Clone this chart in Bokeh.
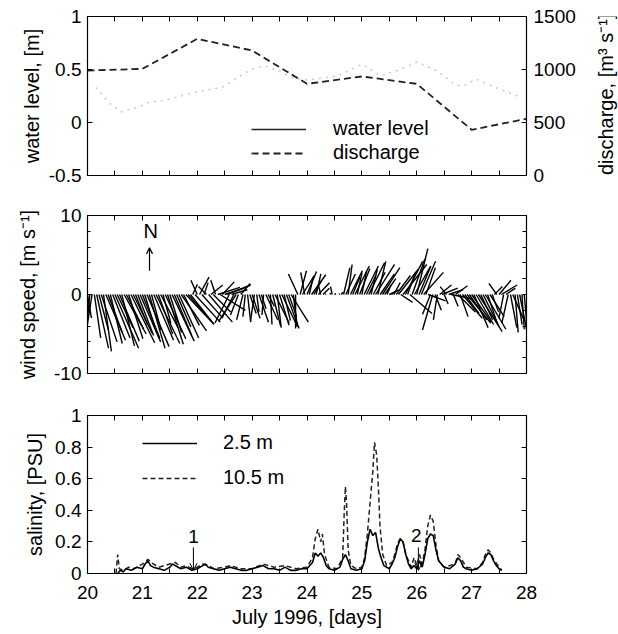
import numpy as np
from bokeh.plotting import figure
from bokeh.layouts import column, row
from bokeh.models import (LinearAxis, Range1d, FixedTicker, Legend, LegendItem,
                          Arrow, OpenHead, Label)
from bokeh.embed import file_html
from bokeh.resources import INLINE

FONT = "Liberation Sans"
TICK_FS = "19px"
TITLE_FS = "20px"

# ---------------- data ----------------
day_ticks = [20, 21, 22, 23, 24, 25, 26, 27, 28]
half_days = [20.5, 21.5, 22.5, 23.5, 24.5, 25.5, 26.5, 27.5]

# panel 1: water level [m] and discharge [m3 s-1]
discharge_days = [20, 21, 22, 23, 24, 25, 26, 27, 28]
discharge = [990, 1006, 1289, 1179, 865, 934, 865, 431, 535]
wl_days = [20.15, 20.40, 20.60, 20.93, 21.11, 21.40, 21.63, 21.93, 22.20, 22.45,
           22.66, 22.85, 23.06, 23.25, 23.47, 23.75, 24.01, 24.30, 24.56, 24.80,
           25.00, 25.35, 25.70, 26.00, 26.36, 26.72, 26.87, 27.08, 27.44, 27.88]
water_level = [0.33, 0.18, 0.10, 0.145, 0.19, 0.21, 0.24, 0.28, 0.31, 0.33,
               0.40, 0.46, 0.52, 0.53, 0.49, 0.42, 0.40, 0.42, 0.44, 0.50,
               0.55, 0.44, 0.50, 0.57, 0.49, 0.35, 0.35, 0.41, 0.33, 0.24]

# panel 2: hourly wind components [m s-1] (east u, north v), day 20 .. day 27
wind_u = [0.5, -0.6, -1.4, 0.8, 1.5, 1.2, 2.0, 1.0, 2.5, 1.8, 1.5, 2.2,
          3.0, 2.0, 2.5, 1.6, 2.8, 2.2, 1.8, 3.0, 2.4, 1.5, 2.0, 2.6,
          2.2, 1.5, 2.8, 2.0, 1.2, 2.5, 3.0, 1.8, 2.2, 1.0, 2.6, 2.0,
          1.5, 2.8, 2.2, 1.8, 2.5, 3.2, 2.0, 3.5, 2.8, 3.0, 0.6, 3.2,
          -0.8, 1.2, 2.5, 0.5, -1.0, 3.0, 1.5, 2.2, -0.6, 2.8, 3.2, 1.5,
          2.5, 3.0, -1.8, 2.0, -1.5, -2.2, -1.0, 1.2, -0.8, -0.3, 0.4, 0.8,
          1.0, -0.5, 0.3, 1.2, 0.6, -0.2, 1.5, 0.8, 0.2, 1.0, 1.8, 0.5,
          1.2, 2.0, 0.8, 1.6, 1.0, 2.2, 0.5, 0.0, -1.2, 0.8, 1.5, -0.5,
          1.2, 0.5, 1.8, 1.0, 0.6, 1.4, -0.3, 0.8, 0.1, 0.0, 0.1, -0.2,
          0.2, 0.0, 0.1, 0.2, 0.8, 1.2, 0.5, 1.5, 0.9, 1.8, 0.6, 1.3,
          0.6, 1.8, 1.2, 2.0, 0.8, 1.5, 2.4, 1.0, 1.8, 2.2, 1.4, 0.5,
          1.2, 0.4, 0.8, 1.8, 2.5, 1.5, 3.0, 2.2, 1.0, 2.8, 1.6, 2.0,
          1.4, 1.5, 1.8, 2.5, 1.2, 2.2, -1.0, -1.3, 0.8, -0.5, 1.5, 2.0,
          0.5, -0.8, 1.8, 2.5, 0.6, 1.5, 2.2, 1.0, 2.5, 1.8, 3.0, 2.2,
          2.5, 1.8, 2.2, 3.0, 1.5, 2.0, 2.6, 1.2, 1.8, 0.8, 1.0, -1.0,
          1.5, 2.0, -0.6, 1.2, -0.8, 0.8, 1.5, 0.4, 0.6, 1.0, 0.3, 0.5]
wind_v = [-3.0, -6.5, -8.9, -5.5, -6.8, -4.5, -6.0, -7.2, -5.8, -4.8, -6.2, -5.5,
          -6.8, -4.2, -5.9, -6.5, -5.0, -4.4, -5.6, -6.1, -4.9, -3.8, -5.2, -6.0,
          -5.5, -4.8, -6.6, -6.8, -4.5, -5.8, -6.2, -5.0, -4.2, -3.6, -5.6, -6.3,
          -4.8, -5.9, -5.2, -4.1, -5.5, -4.6, -3.9, -3.7, -3.2, -3.8, 1.3, -3.5,
          1.8, 2.2, -2.8, 1.5, 1.0, -3.5, 1.2, -2.2, 1.8, 0.9, -2.0, 1.6,
          0.8, 1.2, -3.6, 0.6, -3.0, -3.4, -2.6, 1.4, -3.2, -2.8, -3.5, -2.4,
          -3.0, -3.4, -2.2, -3.5, -1.8, -2.6, -3.2, -1.5, -3.8, -4.0, -3.6, -4.2,
          -3.9, -4.1, -3.3, -4.3, -2.8, -3.5, -4.0, -4.3, 2.6, 3.0, 2.4, 2.8,
          2.9, 2.2, 2.5, 1.8, 2.6, 1.5, 1.2, 0.8, 0.1, 0.0, 0.2, 1.0,
          0.1, 0.0, 0.1, 0.3, 3.4, 2.6, 3.8, 3.0, 2.2, 3.6, 2.8, 3.3,
          3.0, 3.6, 2.4, 4.0, 3.2, 2.8, 3.8, 4.2, 2.6, 3.4, 2.0, 1.2,
          0.6, 0.3, 1.5, 2.4, 3.2, -1.0, 3.8, 4.2, 2.8, -2.4, 4.5, 3.5,
          5.8, 3.6, 4.2, 2.8, 3.4, -0.8, -2.5, -4.5, -2.0, -3.2, 1.2, 0.8,
          -1.2, 1.0, 0.6, -0.5, -1.5, 1.1, -2.2, -2.8, -3.0, -2.4, -3.6, -3.2,
          -3.5, -4.2, -3.8, -4.7, -3.2, -4.0, -4.4, -3.6, -2.8, -2.2, 1.0, 1.4,
          1.8, 1.2, -3.0, 0.8, -3.6, -4.2, -3.4, -4.8, -3.8, -5.0, -4.4, -5.6]
wind_t = 20 + np.arange(len(wind_u)) / 24.0

# panel 3: salinity [PSU]
s25_t = [20.55, 20.6, 20.65, 20.7, 20.8, 20.9, 21.0, 21.05, 21.1, 21.15, 21.2, 21.3,
         21.4, 21.5, 21.55, 21.6, 21.7, 21.8, 21.9, 22.0, 22.1, 22.15, 22.2, 22.3,
         22.4, 22.5, 22.6, 22.7, 22.8, 22.9, 23.0, 23.1, 23.2, 23.3, 23.4, 23.5,
         23.6, 23.7, 23.8, 23.9, 24.0, 24.1, 24.15, 24.2, 24.25, 24.3, 24.35, 24.4,
         24.5, 24.6, 24.65, 24.7, 24.75, 24.8, 24.9, 25.0, 25.05, 25.1, 25.15, 25.2,
         25.25, 25.3, 25.35, 25.4, 25.5, 25.55, 25.6, 25.65, 25.7, 25.75, 25.8, 25.85,
         25.9, 25.95, 26.0, 26.05, 26.1, 26.15, 26.2, 26.25, 26.3, 26.35, 26.4, 26.5,
         26.6, 26.7, 26.75, 26.8, 26.85, 26.9, 27.0, 27.1, 27.2, 27.25, 27.3, 27.35,
         27.4, 27.45, 27.5, 27.55]
s25 = [0.0, 0.02, 0.01, 0.03, 0.02, 0.04, 0.03, 0.06, 0.08, 0.05, 0.04, 0.03,
       0.02, 0.04, 0.06, 0.05, 0.03, 0.04, 0.02, 0.03, 0.05, 0.06, 0.04, 0.03,
       0.02, 0.03, 0.04, 0.03, 0.02, 0.02, 0.03, 0.04, 0.05, 0.03, 0.03, 0.02,
       0.04, 0.02, 0.02, 0.03, 0.03, 0.07, 0.13, 0.11, 0.13, 0.10, 0.05, 0.03,
       0.02, 0.04, 0.09, 0.12, 0.08, 0.03, 0.02, 0.03, 0.08, 0.20, 0.28, 0.24,
       0.26, 0.16, 0.10, 0.05, 0.03, 0.06, 0.10, 0.17, 0.22, 0.20, 0.12, 0.06,
       0.03, 0.05, 0.03, 0.08, 0.04, 0.12, 0.22, 0.25, 0.24, 0.15, 0.08, 0.04,
       0.03, 0.06, 0.10, 0.08, 0.04, 0.03, 0.02, 0.03, 0.06, 0.10, 0.13, 0.12,
       0.08, 0.05, 0.03, 0.02]
s105_t = [20.52, 20.55, 20.58, 20.65, 20.75, 20.85, 20.95, 21.05, 21.1, 21.2, 21.3, 21.4,
          21.5, 21.6, 21.7, 21.8, 21.9, 22.0, 22.1, 22.2, 22.3, 22.5, 22.6, 22.8,
          23.0, 23.2, 23.4, 23.6, 23.8, 24.0, 24.1, 24.15, 24.2, 24.25, 24.28, 24.32,
          24.4, 24.55, 24.65, 24.68, 24.7, 24.72, 24.75, 24.8, 24.9, 25.0, 25.05, 25.1,
          25.15, 25.2, 25.23, 25.27, 25.3, 25.33, 25.38, 25.45, 25.55, 25.6, 25.65, 25.7,
          25.75, 25.8, 25.9, 25.95, 26.0, 26.05, 26.1, 26.15, 26.2, 26.25, 26.3, 26.35,
          26.4, 26.5, 26.7, 26.75, 26.8, 26.9, 27.1, 27.2, 27.25, 27.3, 27.35, 27.4,
          27.5, 27.55]
s105 = [0.0, 0.12, 0.03, 0.02, 0.04, 0.03, 0.05, 0.07, 0.09, 0.06, 0.04, 0.05,
        0.06, 0.07, 0.04, 0.05, 0.03, 0.04, 0.06, 0.05, 0.03, 0.04, 0.05, 0.03,
        0.03, 0.06, 0.04, 0.05, 0.03, 0.04, 0.10, 0.22, 0.28, 0.20, 0.25, 0.12,
        0.04, 0.03, 0.10, 0.40, 0.55, 0.45, 0.15, 0.05, 0.03, 0.04, 0.10, 0.25,
        0.45, 0.65, 0.83, 0.75, 0.55, 0.30, 0.12, 0.05, 0.07, 0.12, 0.19, 0.22,
        0.20, 0.12, 0.04, 0.10, 0.05, 0.12, 0.06, 0.15, 0.30, 0.37, 0.33, 0.18,
        0.08, 0.04, 0.06, 0.12, 0.10, 0.04, 0.03, 0.07, 0.12, 0.15, 0.13, 0.09,
        0.04, 0.02]

# ---------------- helpers ----------------
x_range = Range1d(20, 28)
FRAME_W = 439
LEFT = 87
RIGHT = 92


def new_fig(top, fh, bottom, y_range, right=RIGHT):
    p = figure(frame_width=FRAME_W, frame_height=fh, min_border_left=LEFT,
               min_border_right=right, min_border_top=top, min_border_bottom=bottom,
               x_range=x_range, y_range=y_range, output_backend="svg",
               toolbar_location=None, x_axis_type=None, y_axis_type=None)
    p.outline_line_color = "black"
    p.outline_line_width = 1.2
    p.background_fill_color = "white"
    p.border_fill_color = "white"
    return p


def style(ax, standoff=6, tick=5, minor=3):
    ax.major_tick_in = tick
    ax.major_tick_out = 0
    ax.minor_tick_in = minor
    ax.minor_tick_out = 0
    ax.axis_line_color = None
    ax.major_tick_line_color = "black"
    ax.minor_tick_line_color = "black"
    ax.major_label_text_font = FONT
    ax.major_label_text_font_size = TICK_FS
    ax.major_label_text_color = "black"
    ax.major_label_standoff = standoff
    ax.axis_label_text_font = FONT
    ax.axis_label_text_font_size = TITLE_FS
    ax.axis_label_text_font_style = "normal"
    ax.axis_label_text_color = "black"


def tick_only_axis(p, side, ticks, y_range_name=None):
    # an axis with tick marks only (all ticks given as minor ticks -> no labels)
    kw = {} if y_range_name is None else {"y_range_name": y_range_name}
    ax = LinearAxis(ticker=FixedTicker(ticks=[], minor_ticks=ticks), **kw)
    style(ax, 0, 5, 5)
    p.add_layout(ax, side)
    return ax


all_day_ticks = sorted(day_ticks + half_days)

# ---------------- panel 1 ----------------
TITLE_W = 26
wl_range = Range1d(-0.5, 1)
p1 = new_fig(16, 159, 20, wl_range, right=RIGHT - TITLE_W)
p1.extra_y_ranges = {"dis": Range1d(0, 1500), "off": Range1d(10, 11)}
tick_only_axis(p1, "below", all_day_ticks)
tick_only_axis(p1, "above", all_day_ticks)
l1 = LinearAxis(ticker=FixedTicker(ticks=[-0.5, 0, 0.5, 1]), axis_label="water level, [m]")
style(l1)
l1.major_label_overrides = {-0.5: "-0.5", 0: "0", 0.5: "0.5", 1: "1"}
l1.axis_label_standoff = 3
p1.add_layout(l1, "left")
r1 = LinearAxis(y_range_name="dis", ticker=FixedTicker(ticks=[0, 500, 1000, 1500]))
style(r1, 7)
r1.major_label_overrides = {0: "0", 500: "500", 1000: "1000", 1500: "1500"}
p1.add_layout(r1, "right")

p1.line(wl_days, water_level, line_color="#cccccc", line_width=1.6, line_dash="2 5")
r_dis = p1.line(discharge_days, discharge, y_range_name="dis", line_color="#222222",
                line_width=1.8, line_dash="7 4")
# same water-level data drawn solid on an off-screen range: used only as legend sample
r_wl_leg = p1.line(wl_days, water_level, y_range_name="off", line_color="#222222",
                   line_width=1.6)
lg1 = Legend(items=[LegendItem(label="water level", renderers=[r_wl_leg]),
                    LegendItem(label="discharge", renderers=[r_dis])],
             location=(164, 11), padding=0, margin=0, border_line_color=None,
             background_fill_alpha=0, glyph_width=55, glyph_height=20, label_height=20,
             spacing=1, label_standoff=27, label_text_font=FONT,
             label_text_font_size=TITLE_FS, label_text_color="black")
p1.add_layout(lg1)

# narrow strip carrying the right-hand axis title (reads bottom to top)
pt = figure(width=TITLE_W, height=195, x_range=Range1d(0, 1), y_range=Range1d(0, 195),
            min_border=0, output_backend="svg", toolbar_location=None,
            x_axis_type=None, y_axis_type=None)
pt.outline_line_color = None
pt.background_fill_color = "white"
pt.border_fill_color = "white"
pt.add_layout(Label(x=0.5, y=20 + 159 / 2, text="discharge, [m³ s⁻¹]", angle=np.pi / 2,
                    text_font=FONT, text_font_size=TITLE_FS, text_align="center",
                    text_baseline="middle", text_color="black"))

# ---------------- panel 2 ----------------
p2 = new_fig(20, 158, 21, Range1d(-10, 10))
tick_only_axis(p2, "below", all_day_ticks)
tick_only_axis(p2, "above", all_day_ticks)
wtk = [-10, 0, 10]
wmin = [-8, -6, -4, -2, 2, 4, 6, 8]
l2 = LinearAxis(ticker=FixedTicker(ticks=wtk, minor_ticks=wmin), axis_label="wind speed, [m s⁻¹]")
style(l2)
l2.major_label_overrides = {-10: "-10", 0: "0", 10: "10"}
l2.axis_label_standoff = 12
p2.add_layout(l2, "left")
r2 = tick_only_axis(p2, "right", sorted(wtk + wmin))
r2.minor_tick_in = 4

k = 0.144  # days per m/s so that sticks keep their true direction
wind_x1 = wind_t + np.array(wind_u) * k
p2.segment(x0=wind_t, y0=np.zeros(len(wind_t)), x1=wind_x1, y1=wind_v,
           line_color="black", line_width=1.4)
p2.add_layout(Label(x=21.15, y=8.1, text="N", text_font=FONT, text_font_size=TITLE_FS,
                    text_align="center", text_baseline="middle", text_color="black"))
p2.add_layout(Arrow(x_start=21.13, y_start=3.0, x_end=21.13, y_end=5.9, line_width=1.2,
                    end=OpenHead(size=6, line_width=1.2)))

# ---------------- panel 3 ----------------
p3 = new_fig(21, 158, 61, Range1d(0, 1))
bx = LinearAxis(ticker=FixedTicker(ticks=day_ticks, minor_ticks=half_days),
                axis_label="July 1996, [days]")
style(bx, 12, 5, 5)
bx.major_label_overrides = {d: str(d) for d in day_ticks}
bx.axis_label_standoff = 4
p3.add_layout(bx, "below")
tick_only_axis(p3, "above", all_day_ticks)
stk = [0, 0.2, 0.4, 0.6, 0.8, 1]
l3 = LinearAxis(ticker=FixedTicker(ticks=stk), axis_label="salinity, [PSU]")
style(l3)
l3.major_label_overrides = {0: "0", 0.2: "0.2", 0.4: "0.4", 0.6: "0.6", 0.8: "0.8", 1: "1"}
l3.axis_label_standoff = 6
p3.add_layout(l3, "left")
tick_only_axis(p3, "right", stk)

r_s105 = p3.line(s105_t, s105, line_color="#222222", line_width=1.5, line_dash="5 3")
r_s25 = p3.line(s25_t, s25, line_color="black", line_width=1.6)
lg3 = Legend(items=[LegendItem(label="2.5 m", renderers=[r_s25]),
                    LegendItem(label="10.5 m", renderers=[r_s105])],
             location=(55, 84), padding=0, margin=0, border_line_color=None,
             background_fill_alpha=0, glyph_width=55, glyph_height=20, label_height=20,
             spacing=12, label_standoff=26, label_text_font=FONT,
             label_text_font_size=TITLE_FS, label_text_color="black")
p3.add_layout(lg3)

p3.add_layout(Label(x=21.93, y=0.235, text="1", text_font=FONT, text_font_size=TICK_FS,
                    text_align="center", text_baseline="middle", text_color="black"))
p3.add_layout(Arrow(x_start=21.93, y_start=0.165, x_end=21.93, y_end=0.02, line_width=1,
                    end=OpenHead(size=7, line_width=1)))
p3.add_layout(Label(x=25.99, y=0.24, text="2", text_font=FONT, text_font_size=TICK_FS,
                    text_align="center", text_baseline="middle", text_color="black"))
p3.add_layout(Arrow(x_start=26.03, y_start=0.165, x_end=26.03, y_end=0.02, line_width=1,
                    end=OpenHead(size=7, line_width=1)))

layout = column(row(p1, pt, spacing=0), p2, p3, spacing=0)
open("out.html", "w").write(file_html(layout, INLINE))
